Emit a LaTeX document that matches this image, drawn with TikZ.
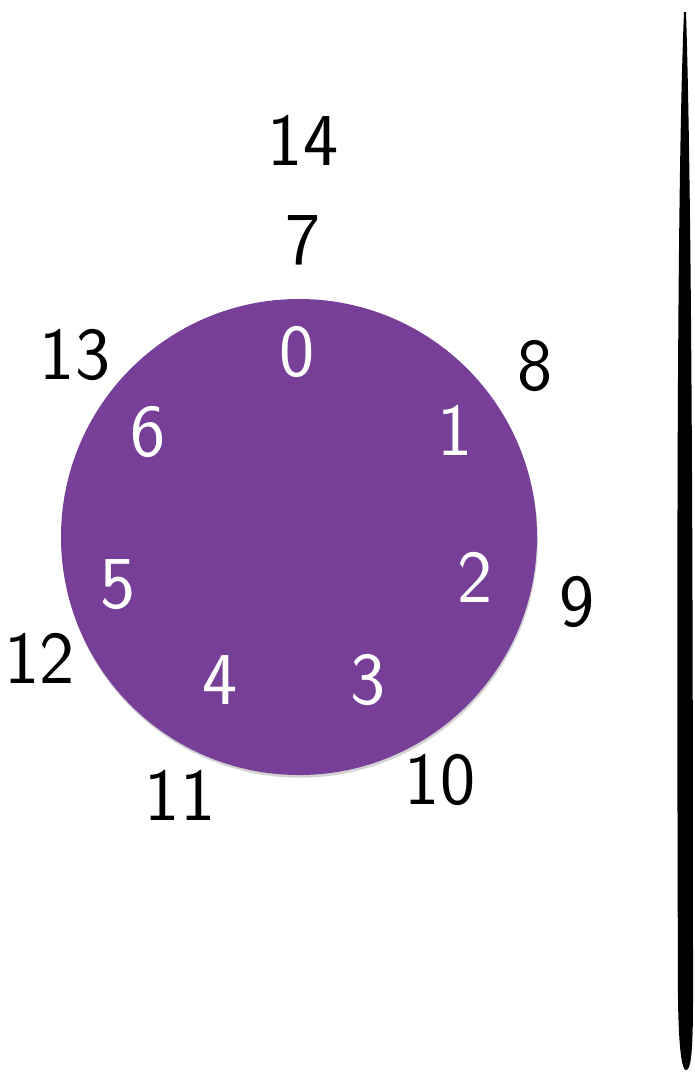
\documentclass[tikz,border=0pt]{standalone}
\usepackage{tikz}
\usepackage{xcolor}
\usetikzlibrary{shadows}
\definecolor{dialPurple}{RGB}{119,63,152}
\definecolor{inkBlack}{RGB}{0,0,0}
\begin{document}
\begin{tikzpicture}[x=0.75pt,y=-0.75pt,
  innerNum/.style={text=white,font=\sffamily\fontsize{56}{56}\selectfont,inner sep=0pt},
  outerNum/.style={text=inkBlack,font=\sffamily\fontsize{56}{56}\selectfont,inner sep=0pt}]
\useasboundingbox (0,0) rectangle (695,1072);
% dial
\fill[dialPurple,drop shadow={shadow xshift=0.6pt,shadow yshift=-2pt,opacity=0.35}] (299,537) circle (238);
\node[innerNum] (d0) at (297,352) {0};
\node[innerNum] (d1) at (455,430) {1};
\node[innerNum] (d2) at (475,577) {2};
\node[innerNum] (d3) at (368,680) {3};
\node[innerNum] (d4) at (220,680) {4};
\node[innerNum] (d5) at (118,585) {5};
\node[innerNum] (d6) at (148,432) {6};
% outer ring
\node[outerNum] (d7) at (303,240) {7};
\node[outerNum] (d8) at (535,366) {8};
\node[outerNum] (d9) at (577,602) {9};
\node[outerNum] (d10) at (440,780) {10};
\node[outerNum] (d11) at (180,795) {11};
\node[outerNum] (d12) at (40,658) {12};
\node[outerNum] (d13) at (75,355) {13};
\node[outerNum] (d14) at (303,140) {14};
% brush stroke
\fill[inkBlack] (684,12) .. controls (676,200) and (677,700) .. (678,1000)
  .. controls (679,1060) and (683,1070) .. (686,1070)
  .. controls (690,1070) and (693,1060) .. (693,1000)
  .. controls (693,600) and (692,200) .. (686,12) -- cycle;
\end{tikzpicture}
\end{document}
